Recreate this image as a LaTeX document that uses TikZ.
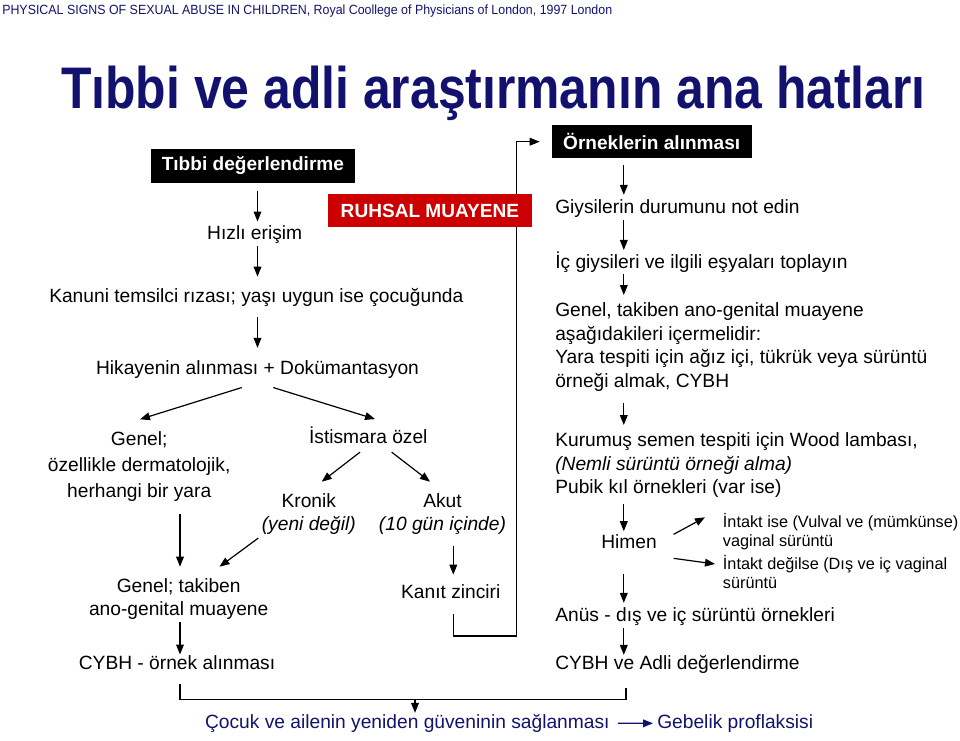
\documentclass[tikz,border=0pt]{standalone}
\usepackage{fontspec}
\usepackage{graphicx}
\setmainfont{Liberation Sans}
\usetikzlibrary{calc,arrows.meta}
\definecolor{navy}{RGB}{18,18,110}
\definecolor{boxred}{RGB}{204,0,0}
\newcommand{\txtsize}{\fontsize{14.4}{17.5}\selectfont}
\newcommand{\boxsize}{\fontsize{14.3}{17}\selectfont\bfseries}

\begin{document}
\begin{tikzpicture}[x=0.75pt,y=-0.75pt,every node/.style={inner sep=0pt,font=\txtsize}]

\tikzstyle{arr}=[-{Triangle[length=7.5pt,width=5.8pt]},line width=0.9pt]
\tikzstyle{darkbox}=[fill=black,text=white,font=\boxsize,minimum height=25pt]
\tikzstyle{small}=[anchor=north west,align=left,font=\fontsize{12.2}{14}\selectfont]

\useasboundingbox (0,0) rectangle (960,740);

% column positions
\coordinate (lx) at (257.5,0);
\coordinate (ax) at (180,0);
\coordinate (kx) at (453.3,0);
\coordinate (rx) at (623.8,0);
\coordinate (bx) at (626,0);
\coordinate (turn) at (516.7,636);
\coordinate (join) at (415,699.3);

% heading
\node (source) at (2,14) [anchor=base west,text=navy,font=\fontsize{10}{12}\selectfont] {\scalebox{0.93}[1]{PHYSICAL SIGNS OF SEXUAL ABUSE IN CHILDREN, Royal Coollege of Physicians of London, 1997 London}};
\node (title) at (493.5,108) [anchor=base,text=navy,font=\fontsize{44}{50}\selectfont\bfseries] {\scalebox{0.85}[1]{Tıbbi ve adli araştırmanın ana hatları}};

\node (tibbi) at (252.9,166) [darkbox,minimum width=153.2pt] {Tıbbi değerlendirme};
\node (ornek) at (651.7,141.7) [darkbox,minimum width=150pt] {Örneklerin alınması};

% left side
\node (hizli) at (254.7,239.3) [anchor=base] {Hızlı erişim};
\node (kanuni) at (256.3,302) [anchor=base] {Kanuni temsilci rızası; yaşı uygun ise çocuğunda};
\node (hikaye) at (257.5,374) [anchor=base] {Hikayenin alınması + Dokümantasyon};
\node (genelA) at (139.2,431) [anchor=north,align=center,font=\fontsize{14.4}{19.5}\selectfont] {Genel;\\özellikle dermatolojik,\\herhangi bir yara};
\node (istismar) at (368.3,443.3) [anchor=base] {İstismara özel};
\node (kronik) at (308.8,493) [anchor=north,align=center] {Kronik\\\textit{(yeni değil)}};
\node (akut) at (442.5,493) [anchor=north,align=center] {Akut\\\textit{(10 gün içinde)}};
\node (genelB) at (178.7,578.7) [anchor=north,align=center,font=\fontsize{14.4}{16.7}\selectfont] {Genel; takiben\\ano-genital muayene};
\node (kanit) at (450.8,598.3) [anchor=base] {Kanıt zinciri};
\node (cybhA) at (177,669.3) [anchor=base] {CYBH - örnek alınması};

% right side
\node (giysi) at (555,213.3) [anchor=base west] {Giysilerin durumunu not edin};
\node (ic) at (555,268.3) [anchor=base west] {İç giysileri ve ilgili eşyaları toplayın};
\node (genelC) at (555,302.7) [anchor=north west,align=left,font=\fontsize{14.4}{17.6}\selectfont] {Genel, takiben ano-genital muayene\\aşağıdakileri içermelidir:\\Yara tespiti için ağız içi, tükrük veya sürüntü\\örneği almak, CYBH};
\node (kurumus) at (555,432.7) [anchor=north west,align=left] {Kurumuş semen tespiti için Wood lambası,\\\textit{(Nemli sürüntü örneği alma)}\\Pubik kıl örnekleri (var ise)};
\node (himen) at (629,548.3) [anchor=base] {Himen};
\node (intaktA) at (722.7,513.6) [small] {İntakt ise (Vulval ve (mümkünse)\\vaginal sürüntü};
\node (intaktB) at (722.7,555.3) [small] {İntakt değilse (Dış ve iç vaginal\\sürüntü};
\node (anus) at (555,621.7) [anchor=base west] {Anüs - dış ve iç sürüntü örnekleri};
\node (cybhB) at (555,669.3) [anchor=base west] {CYBH ve Adli değerlendirme};

\node (cocuk) at (407.3,728.3) [anchor=base,text=navy] {Çocuk ve ailenin yeniden güveninin sağlanması};
\node (gebelik) at (657,728.3) [anchor=base west,text=navy] {Gebelik proflaksisi};

% arrows
\draw[arr] ($(tibbi.south -| lx)+(0,8)$) -- ($(hizli.north -| lx)+(0,-3.6)$);
\draw[arr] ($(hizli.south -| lx)+(0,2.5)$) -- ($(kanuni.north -| lx)+(0,-11)$);
\draw[arr] ($(kanuni.south -| lx)+(0,11)$) -- ($(hikaye.north -| lx)+(0,-12)$);
\draw[arr] ($(hikaye.south)+(-15.8,9.3)$) -- ($(genelA.north)+(0.8,-11.7)$);
\draw[arr] ($(hikaye.south)+(15.8,9.3)$) -- ($(istismar.north)+(6.7,-7.3)$);
\draw[arr] ($(istismar.south)+(-8.3,8.4)$) -- ($(kronik.north)+(12.9,-11.3)$);
\draw[arr] ($(istismar.south)+(23.4,8.4)$) -- ($(akut.north)+(-12.5,-11.3)$);
\draw[arr] ($(kronik.south)+(-50.5,3.3)$) -- ($(genelB.north)+(40.8,-12)$);
\draw[arr] ($(genelA.south -| ax)+(0,12.3)$) -- ($(genelB.north -| ax)+(0,-12)$);
\draw[arr] ($(akut.south -| kx)+(0,11)$) -- ($(kanit.north -| kx)+(0,-9.5)$);
\draw[arr] ($(genelB.south -| ax)+(0,3)$) -- ($(cybhA.north -| ax)+(0,-0.6)$);
\draw[arr] ($(kanit.south -| kx)+(0,15)$) |- (turn) |- ($(ornek.west)+(-11.7,0)$);

\draw[arr] ($(ornek.south -| rx)+(0,6.7)$) -- ($(giysi.north -| rx)+(0,-4.3)$);
\draw[arr] ($(giysi.south -| rx)+(0,2.7)$) -- ($(ic.north -| rx)+(0,-1.4)$);
\draw[arr] ($(ic.south -| rx)+(0,1)$) -- ($(genelC.north -| rx)+(0,-7.7)$);
\draw[arr] ($(genelC.south -| rx)+(0,11.3)$) -- ($(kurumus.north -| rx)+(0,-7.7)$);
\draw[arr] ($(kurumus.south -| rx)+(0,6)$) -- ($(himen.north -| rx)+(0,-2.9)$);
\draw[arr] ($(himen.east)+(16.6,-7.1)$) -- ($(intaktA.north west)+(-17.7,3.7)$);
\draw[arr] ($(himen.east)+(16.6,16.9)$) -- ($(intaktB.north west)+(-7.7,8.7)$);
\draw[arr] ($(himen.south -| rx)+(0,25)$) -- ($(anus.north -| rx)+(0,-4.7)$);
\draw[arr] ($(anus.south -| rx)+(0,2.3)$) -- (cybhB.north -| rx);

\draw[line width=0.9pt] ($(cybhA.south -| ax)+(0,14)$) |- (join) -| ($(cybhB.south -| bx)+(0,14)$);
\draw[arr] (join) -- ($(cocuk.north -| join)+(0,-1)$);
\draw[arr,navy] ($(cocuk.east)+(8,0)$) -- ($(gebelik.west)+(-4,0)$);

% red box last, it covers the long line
\node (ruhsal) at (429.9,210.8) [darkbox,fill=boxred,minimum width=152.8pt,minimum height=24.75pt] {RUHSAL MUAYENE};
\end{tikzpicture}
\end{document}
